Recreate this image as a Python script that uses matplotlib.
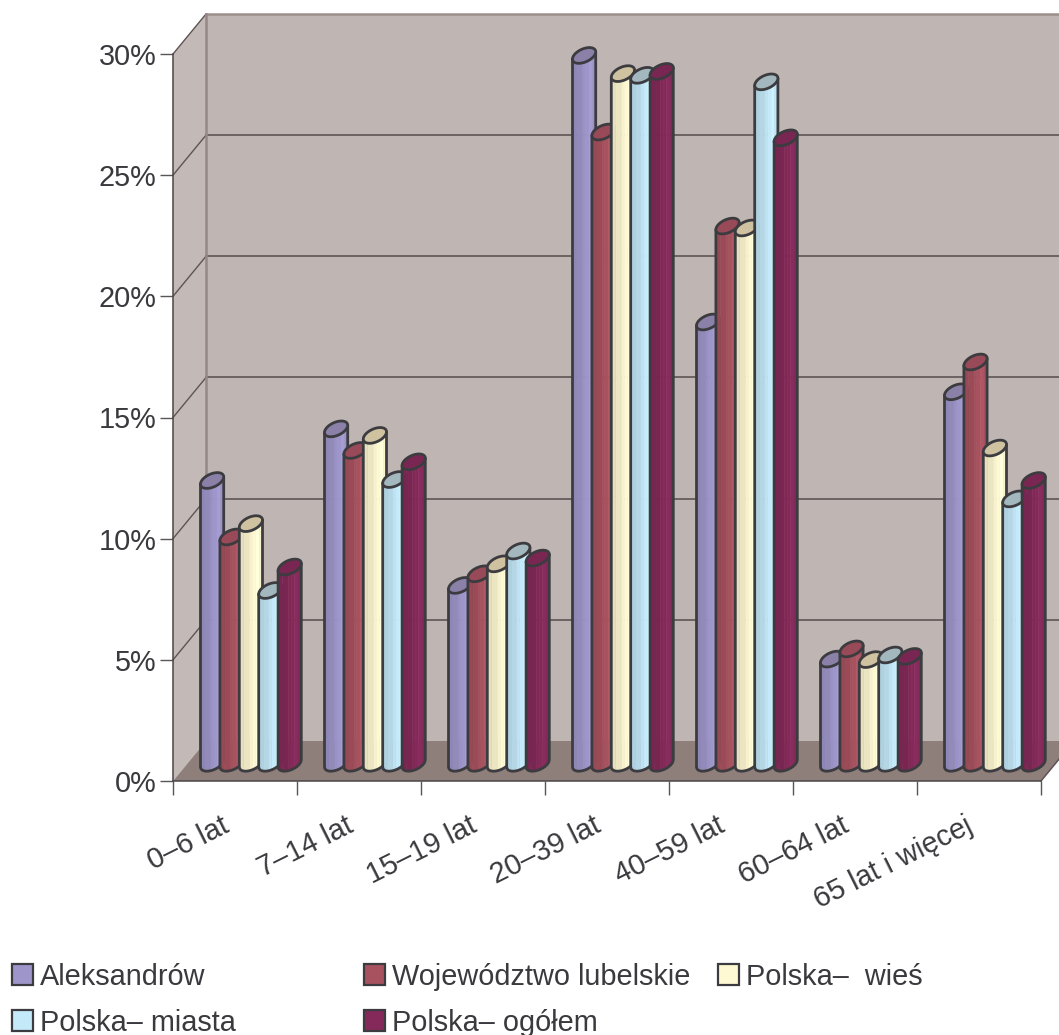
import numpy as np
import matplotlib
matplotlib.use("Agg")
import matplotlib.pyplot as plt
from matplotlib.patches import Polygon, Rectangle
from matplotlib.colors import to_rgb
from matplotlib.transforms import ScaledTranslation

plt.rcParams['font.family'] = ['Liberation Sans', 'DejaVu Sans']

categories = ['0–6 lat', '7–14 lat', '15–19 lat', '20–39 lat', '40–59 lat', '60–64 lat', '65 lat i więcej']
aleksandrow = [11.67, 13.80, 7.34, 29.21, 18.21, 4.30, 15.33]
lubelskie = [9.34, 12.91, 7.82, 26.05, 22.17, 4.72, 16.56]
wies = [9.89, 13.53, 8.23, 28.46, 22.09, 4.28, 13.01]
miasta = [7.13, 11.71, 8.76, 28.39, 28.12, 4.47, 10.91]
ogolem = [8.10, 12.44, 8.47, 28.55, 25.81, 4.41, 11.67]
y_ticks = [0, 5, 10, 15, 20, 25, 30]
series_names = ['Aleksandrów', 'Województwo lubelskie', 'Polska–  wieś', 'Polska– miasta', 'Polska– ogółem']
series_values = [aleksandrow, lubelskie, wies, miasta, ogolem]

body_colors = ['#9E96CA', '#A8525F', '#FFF9D3', '#C4E9F9', '#85295A']
top_colors = ['#8B80A8', '#994A58', '#CFC2A0', '#A3B8BE', '#7A2652']
WALL = '#BFB6B3'
SIDE = '#C3BAB7'
FLOOR = '#8E7F7B'
INK = '#3C3C40'
TEXT = '#3A3A3E'

W, H = 1059, 1035
fig = plt.figure(figsize=(W / 100, H / 100), dpi=100, facecolor='white')
L, R, T, B = 173, 1041, 54, 781
ax = fig.add_axes([L / W, 1 - B / H, (R - L) / W, (B - T) / H])
ax.set_xlim(0, 7)
ax.set_ylim(0, 30)
ax.patch.set_visible(False)

CX = (R - L) / 7      # px per category
CY = (B - T) / 30     # px per percent
DX, DY = 33 / CX, 40 / CY   # depth of the box, data units


def poly(pts, z, fc='none', ec='none', lw=0, **kw):
    ax.add_patch(Polygon(pts, closed=True, facecolor=fc, edgecolor=ec, linewidth=lw,
                         clip_on=False, zorder=z, joinstyle='round', **kw))


# walls
XEND = 7 + DX
poly([(DX, DY), (XEND, DY), (XEND, 30 + DY), (DX, 30 + DY)], 0.5, fc=WALL)
poly([(0, 0), (DX, DY), (DX, 30 + DY), (0, 30)], 0.6, fc=SIDE)
poly([(0, 0), (7, 0), (XEND, DY), (DX, DY)], 0.7, fc=FLOOR)
for v in y_ticks[1:-1]:
    ax.plot([DX, XEND], [v + DY, v + DY], color='#5E5453', lw=1.2, clip_on=False, zorder=0.8)
for v in y_ticks[1:]:
    ax.plot([0, DX], [v, v + DY], color='#5E5453', lw=1.0, clip_on=False, zorder=0.8)
ax.plot([DX, XEND], [30 + DY, 30 + DY], color='#9C8F8C', lw=1.8, clip_on=False, zorder=0.8)
ax.plot([DX, DX], [DY, 30 + DY], color='#958886', lw=1.8, clip_on=False, zorder=0.8)
ax.plot([7, XEND], [0, DY], color='#5E5453', lw=1.1, clip_on=False, zorder=0.8)

# cylinders
HALF = 11.6 / CX
STEP = 19.4 / CX
SHIFT = 15.9 / CX
LIFT = 17.7 / CY
KY = 3.6 / CY
BY = 7.0 / CY
facet_edges = np.array([-1, -0.62, -0.12, 0.12, 0.42, 0.72, 1.0])
facet_gain = [0.90, 0.92, 0.97, 1.0, 1.04, 0.98]


def under(u, v):
    return v + KY * u - BY * np.sqrt(np.clip(1 - u ** 2, 0, 1))


for c in range(len(categories)):
    for s, values in enumerate(series_values):
        z = 3 + c * 0.1 + s * 0.01
        xc = c + 0.5 + SHIFT + (s - 2) * STEP
        top = values[c] + LIFT
        base = LIFT
        rgb = np.array(to_rgb(body_colors[s]))
        for a, b, g in zip(facet_edges[:-1], facet_edges[1:], facet_gain):
            u = np.linspace(a, b, 12)
            low = np.column_stack([xc + HALF * u, under(u, base)])
            up = np.column_stack([xc + HALF * u[::-1], under(u[::-1], top)])
            col = tuple(np.clip(rgb * g, 0, 1))
            poly(np.vstack([low, up]), z, fc=col, ec=col, lw=0.3)
        u = np.linspace(-1, 1, 60)
        low = np.column_stack([xc + HALF * u, under(u, base)])
        outline = np.vstack([low, [(xc + HALF, top + KY)], [(xc - HALF, top - KY)]])
        poly(outline, z + 0.001, ec=INK, lw=2.0)
        t = np.linspace(0, 2 * np.pi, 80)
        cap = np.column_stack([xc + HALF * np.cos(t), top + KY * np.cos(t) + BY * np.sin(t)])
        poly(cap, z + 0.002, fc=top_colors[s], ec=INK, lw=2.0)

# axes
for side in ['top', 'right']:
    ax.spines[side].set_visible(False)
for side in ['left', 'bottom']:
    ax.spines[side].set_color('#4A4648')
    ax.spines[side].set_linewidth(1.1)
ax.set_yticks(y_ticks)
ax.set_yticklabels([f'{v}%' for v in y_ticks], fontsize=20.8, color=TEXT)
ax.tick_params(axis='y', length=9.5, width=1.0, color='#5A5658', pad=2.5)
ax.set_xticks(range(8))
ax.set_xticklabels([])
ax.tick_params(axis='x', which='major', length=10, width=1.0, color='#5A5658')
ax.set_xticks(np.arange(7) + 0.5, minor=True)
ax.set_xticklabels(categories, minor=True, fontsize=20.8, color=TEXT, rotation=26.5,
                   ha='right', va='top', rotation_mode='anchor')
ax.tick_params(axis='x', which='minor', length=0, pad=22)
shift = ScaledTranslation(-14 / 100, 0, fig.dpi_scale_trans)
for lab in ax.get_xticklabels(minor=True):
    lab.set_transform(lab.get_transform() + shift)

# legend
cols = [12, 364, 718]
rows = [964, 1010]
positions = [(0, 0), (1, 0), (2, 0), (0, 1), (1, 1)]
for (cc, rr), name, colr in zip(positions, series_names, body_colors):
    x0, y0 = cols[cc], rows[rr]
    fig.add_artist(Rectangle((x0 / W, 1 - (y0 + 21) / H), 21 / W, 21 / H, transform=fig.transFigure,
                             facecolor=colr, edgecolor=INK, linewidth=1.6))
    fig.text((x0 + 28) / W, 1 - (y0 + 21) / H, name, fontsize=20.8, color=TEXT, ha='left', va='baseline')

fig.savefig('out.png', dpi=100, facecolor='white')
